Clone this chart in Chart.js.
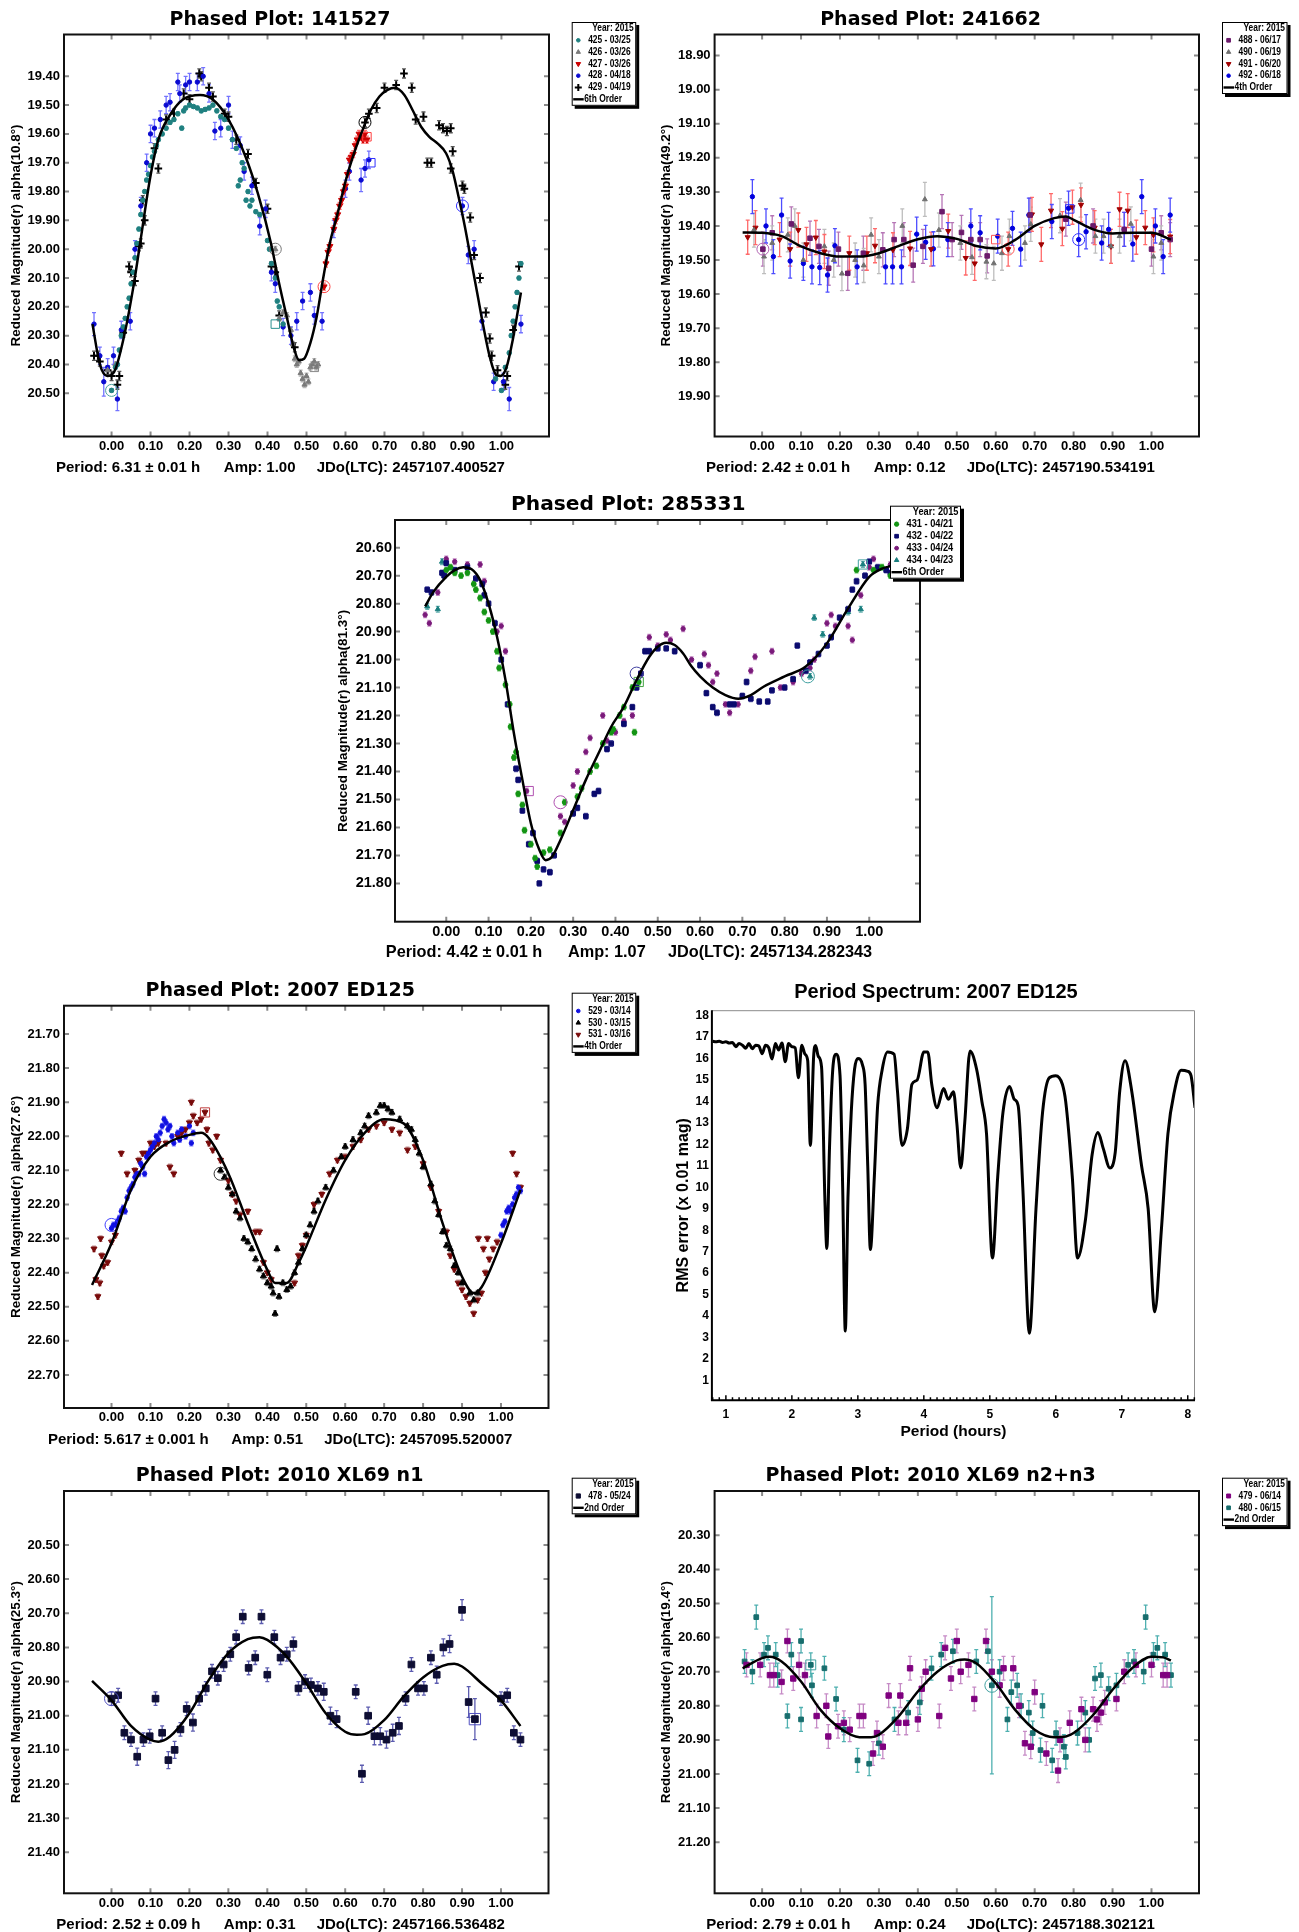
<!DOCTYPE html>
<html>
<head>
<meta charset="utf-8">
<script src="https://cdn.jsdelivr.net/npm/chart.js@4.4.1/dist/chart.umd.min.js"></script>
<style>
  html, body { margin: 0; padding: 0; background: #fff; }
  body { width: 1299px; height: 1932px; position: relative; overflow: hidden; font-family: "Liberation Sans", Arial, sans-serif; }
  canvas { position: absolute; }
  .ttl { position: absolute; font-family: "DejaVu Sans", sans-serif; font-weight: bold; line-height: 1; white-space: nowrap; color: #000; transform: translate(-50%, -50%); }
  .ftr { position: absolute; font-family: "Liberation Sans", Arial, sans-serif; font-weight: bold; line-height: 1; white-space: nowrap; color: #000; transform: translateY(-50%); }
</style>
</head>
<body>
<script>
// ---------------- shared tick values ----------------
const phaseTicks = [0.00, 0.10, 0.20, 0.30, 0.40, 0.50, 0.60, 0.70, 0.80, 0.90, 1.00];

// ---------------- 141527 ----------------
const ticks141527 = [19.40, 19.50, 19.60, 19.70, 19.80, 19.90, 20.00, 20.10, 20.20, 20.30, 20.40, 20.50];
const fit141527 = [[-0.049,20.26],[-0.03,20.40],[-0.011,20.44],[0.007,20.425],[0.034,20.29],[0.056,20.13],[0.077,19.945],[0.098,19.76],[0.12,19.62],[0.152,19.53],[0.184,19.48],[0.227,19.465],[0.259,19.48],[0.30,19.55],[0.344,19.68],[0.376,19.81],[0.409,19.98],[0.43,20.12],[0.451,20.245],[0.467,20.34],[0.481,20.385],[0.494,20.38],[0.51,20.325],[0.526,20.235],[0.542,20.107],[0.558,19.99],[0.58,19.875],[0.601,19.76],[0.622,19.667],[0.644,19.586],[0.665,19.517],[0.687,19.47],[0.708,19.447],[0.727,19.44],[0.751,19.465],[0.772,19.517],[0.794,19.575],[0.815,19.61],[0.836,19.633],[0.858,19.667],[0.874,19.725],[0.89,19.818],[0.906,19.92],[0.922,20.037],[0.938,20.153],[0.954,20.27],[0.97,20.373],[0.986,20.436],[0.997,20.44],[1.013,20.41],[1.029,20.315],[1.05,20.15]];
const s141527_425 = [[0.0,20.49],[0.01,20.41],[0.015,20.40],[0.02,20.35],[0.025,20.30],[0.03,20.27],[0.035,20.24],[0.04,20.20],[0.045,20.17],[0.05,20.12],[0.055,20.08],[0.06,20.03],[0.065,19.98],[0.07,19.93],[0.075,19.88],[0.08,19.83],[0.085,19.80],[0.09,19.76],[0.095,19.74],[0.10,19.71],[0.105,19.68],[0.11,19.66],[0.115,19.64],[0.12,19.62],[0.13,19.60],[0.14,19.58],[0.15,19.56],[0.16,19.55],[0.17,19.53],[0.18,19.58],[0.185,19.52],[0.19,19.51],[0.20,19.50],[0.21,19.505],[0.22,19.51],[0.23,19.52],[0.24,19.515],[0.25,19.51],[0.26,19.50],[0.27,19.52],[0.28,19.54],[0.29,19.55],[0.30,19.58],[0.31,19.62],[0.32,19.65],[0.325,19.78],[0.33,19.76],[0.335,19.70],[0.34,19.72],[0.345,19.83],[0.35,19.80],[0.355,19.85],[0.36,19.83],[0.37,19.87],[0.38,19.88],[0.40,19.97],[0.405,20.00],[0.41,20.05],[0.42,20.10],[0.425,20.18],[0.43,20.20],[0.44,20.26],[0.985,20.45],[1.0,20.49],[1.01,20.41],[1.02,20.36],[1.025,20.30],[1.03,20.25],[1.035,20.20],[1.04,20.15],[1.045,20.10],[1.05,20.05]];
const s141527_426 = [[-0.01,20.42],[0.01,20.40],[0.42,20.00],[0.43,20.24],[0.44,20.22],[0.45,20.23],[0.46,20.28],[0.465,20.33],[0.47,20.38],[0.475,20.40],[0.48,20.39],[0.485,20.43],[0.49,20.45],[0.495,20.47],[0.50,20.44],[0.505,20.46],[0.51,20.41],[0.515,20.40],[0.52,20.39],[0.525,20.41],[0.53,20.40]];
const s141527_427 = [[0.545,20.13],[0.55,20.05],[0.555,20.01],[0.56,19.99],[0.57,19.93],[0.575,19.90],[0.58,19.88],[0.585,19.85],[0.59,19.83],[0.595,19.80],[0.60,19.78],[0.605,19.74],[0.61,19.69],[0.615,19.68],[0.62,19.67],[0.625,19.64],[0.63,19.62],[0.635,19.60],[0.64,19.61],[0.645,19.62],[0.65,19.60],[0.655,19.62]];
const s141527_428 = [[-0.045,20.26,0.04],[-0.03,20.37,0.03],[-0.02,20.46,0.05],[-0.01,20.41,0.03],[0.005,20.37,0.03],[0.015,20.52,0.04],[0.025,20.28,0.03],[0.048,20.25,0.03],[0.06,20.00,0.03],[0.075,19.85,0.03],[0.09,19.70,0.03],[0.10,19.60,0.03],[0.11,19.58,0.03],[0.125,19.55,0.03],[0.14,19.50,0.03],[0.15,19.49,0.03],[0.17,19.42,0.03],[0.175,19.46,0.03],[0.19,19.43,0.03],[0.20,19.42,0.03],[0.22,19.42,0.03],[0.235,19.40,0.03],[0.25,19.46,0.03],[0.265,19.59,0.03],[0.28,19.58,0.03],[0.30,19.50,0.03],[0.31,19.62,0.03],[0.33,19.64,0.03],[0.34,19.73,0.03],[0.36,19.78,0.03],[0.38,19.92,0.03],[0.395,19.86,0.03],[0.41,20.08,0.03],[0.42,20.12,0.03],[0.44,20.27,0.03],[0.46,20.30,0.03],[0.475,20.25,0.03],[0.49,20.18,0.03],[0.51,20.15,0.03],[0.52,20.23,0.03],[0.54,20.25,0.03],[0.57,19.93,0.03],[0.60,19.79,0.03],[0.61,19.73,0.03],[0.64,19.76,0.04],[0.65,19.72,0.03],[0.66,19.69,0.03],[0.90,19.85,0.03],[0.915,20.02,0.03],[0.93,20.00,0.03],[0.95,20.25,0.03],[0.98,20.46,0.03],[1.005,20.46,0.03],[1.02,20.52,0.04],[1.05,20.26,0.03]];
const s141527_429 = [[-0.045,20.37],[-0.035,20.37],[-0.03,20.39],[-0.01,20.42],[0.0,20.44],[0.015,20.47],[0.02,20.44],[0.03,20.29],[0.045,20.06],[0.05,20.08],[0.06,20.11],[0.07,19.99],[0.075,19.98],[0.085,19.90],[0.08,19.83],[0.11,19.65],[0.12,19.72],[0.14,19.55],[0.16,19.53],[0.185,19.46],[0.20,19.48],[0.225,19.39],[0.23,19.40],[0.25,19.44],[0.26,19.47],[0.29,19.53],[0.30,19.54],[0.32,19.62],[0.35,19.67],[0.37,19.77],[0.40,19.86],[0.41,20.06],[0.42,20.08],[0.43,20.23],[0.47,20.34],[0.65,19.56],[0.66,19.53],[0.68,19.51],[0.70,19.44],[0.73,19.43],[0.75,19.39],[0.77,19.44],[0.78,19.55],[0.80,19.54],[0.81,19.70],[0.82,19.70],[0.84,19.57],[0.85,19.58],[0.86,19.59],[0.87,19.58],[0.87,19.72],[0.875,19.66],[0.90,19.78],[0.905,19.79],[0.92,19.89],[0.93,20.02],[0.945,20.10],[0.96,20.22],[0.97,20.31],[0.975,20.37],[0.99,20.42],[1.01,20.47],[1.015,20.44],[1.03,20.28],[1.045,20.06]];
const rings141527 = [[0.0,20.49],[0.42,20.00],[0.545,20.13],[0.65,19.56],[0.90,19.85]];
const boxes141527 = [[0.42,20.26],[0.52,20.41],[0.655,19.61],[0.665,19.70]];

// ---------------- 241662 ----------------
const ticks241662 = [18.90, 19.00, 19.10, 19.20, 19.30, 19.40, 19.50, 19.60, 19.70, 19.80, 19.90];
const fit241662 = [[-0.05,19.419],[0.0,19.42],[0.05,19.43],[0.1,19.46],[0.15,19.48],[0.2,19.49],[0.25,19.49],[0.3,19.48],[0.35,19.459],[0.4,19.439],[0.45,19.43],[0.5,19.438],[0.55,19.459],[0.6,19.466],[0.65,19.441],[0.7,19.40],[0.75,19.377],[0.78,19.372],[0.8,19.382],[0.85,19.41],[0.9,19.422],[0.95,19.42],[1.0,19.42],[1.05,19.44]];
const s241662_488 = [[0.002,19.468],[0.026,19.42],[0.075,19.394],[0.123,19.436],[0.146,19.46],[0.171,19.524],[0.196,19.468],[0.22,19.539],[0.26,19.48],[0.31,19.47],[0.339,19.44],[0.364,19.44],[0.388,19.515],[0.413,19.46],[0.462,19.358],[0.488,19.44],[0.512,19.419],[0.536,19.44],[0.56,19.44],[0.578,19.488],[0.688,19.368],[0.78,19.38],[0.85,19.40],[0.93,19.41],[1.0,19.468],[1.025,19.42],[1.048,19.44]];
const s241662_490 = [[-0.021,19.412],[0.005,19.49],[0.026,19.45],[0.066,19.426],[0.084,19.40],[0.106,19.50],[0.16,19.46],[0.184,19.50],[0.205,19.54],[0.239,19.50],[0.261,19.516],[0.28,19.426],[0.30,19.49],[0.36,19.40],[0.418,19.322],[0.454,19.412],[0.509,19.45],[0.539,19.492],[0.576,19.505],[0.595,19.51],[0.616,19.48],[0.635,19.43],[0.675,19.45],[0.69,19.395],[0.765,19.37],[0.818,19.324],[0.856,19.43],[0.877,19.43],[0.896,19.46],[0.918,19.43],[0.947,19.394],[1.005,19.49],[1.025,19.45]];
const s241662_491 = [[-0.037,19.433],[-0.017,19.405],[0.045,19.44],[0.072,19.468],[0.093,19.412],[0.114,19.454],[0.138,19.434],[0.16,19.475],[0.224,19.48],[0.269,19.48],[0.29,19.458],[0.336,19.47],[0.38,19.466],[0.434,19.468],[0.478,19.415],[0.523,19.494],[0.546,19.51],[0.632,19.468],[0.693,19.366],[0.717,19.454],[0.742,19.355],[0.771,19.408],[0.797,19.345],[0.819,19.338],[0.854,19.405],[0.896,19.46],[0.918,19.351],[0.939,19.355],[0.961,19.433],[0.984,19.405],[1.005,19.426],[1.048,19.431]];
const s241662_492 = [[-0.025,19.314],[0.01,19.40],[0.029,19.49],[0.05,19.368],[0.072,19.503],[0.106,19.51],[0.128,19.52],[0.148,19.522],[0.168,19.544],[0.187,19.458],[0.244,19.52],[0.317,19.52],[0.335,19.52],[0.358,19.52],[0.397,19.424],[0.42,19.448],[0.44,19.467],[0.477,19.44],[0.536,19.40],[0.56,19.42],[0.605,19.43],[0.643,19.407],[0.664,19.468],[0.685,19.368],[0.744,19.387],[0.787,19.348],[0.813,19.44],[0.832,19.417],[0.872,19.45],[0.89,19.41],[0.93,19.41],[0.952,19.453],[0.975,19.314],[1.01,19.40],[1.03,19.49],[1.048,19.368]];
const rings241662 = [[0.002,19.468],[0.632,19.468],[0.813,19.44]];
const boxes241662 = [[0.60,19.44],[0.79,19.35]];

// ---------------- 285331 ----------------
const ticks285331 = [20.60, 20.70, 20.80, 20.90, 21.00, 21.10, 21.20, 21.30, 21.40, 21.50, 21.60, 21.70, 21.80];
const fit285331 = [[-0.05,20.81],[-0.03,20.757],[0.0,20.704],[0.02,20.68],[0.04,20.67],[0.06,20.677],[0.08,20.716],[0.1,20.80],[0.12,20.918],[0.14,21.073],[0.16,21.264],[0.18,21.43],[0.2,21.585],[0.22,21.68],[0.235,21.717],[0.25,21.705],[0.27,21.645],[0.3,21.538],[0.33,21.43],[0.36,21.335],[0.39,21.24],[0.42,21.168],[0.45,21.073],[0.48,20.99],[0.5,20.954],[0.52,20.94],[0.54,20.948],[0.56,20.978],[0.58,21.025],[0.6,21.06],[0.63,21.10],[0.66,21.127],[0.69,21.14],[0.72,21.127],[0.75,21.097],[0.8,21.06],[0.85,21.025],[0.9,20.942],[0.95,20.817],[1.0,20.704],[1.03,20.675],[1.05,20.666]];
const s285331_431 = [[0.0,20.68],[0.01,20.67],[0.02,20.69],[0.035,20.70],[0.05,20.69],[0.065,20.73],[0.07,20.75],[0.08,20.78],[0.09,20.83],[0.10,20.86],[0.11,20.90],[0.12,20.97],[0.125,21.03],[0.14,21.09],[0.15,21.16],[0.152,21.24],[0.16,21.35],[0.165,21.33],[0.17,21.48],[0.18,21.52],[0.185,21.61],[0.20,21.66],[0.21,21.71],[0.215,21.74],[0.23,21.69],[0.245,21.68],[0.27,21.62],[0.28,21.51],[0.31,21.49],[0.32,21.46],[0.34,21.40],[0.355,21.38],[0.37,21.30],[0.39,21.26],[0.395,21.25],[0.41,21.20],[0.42,21.17],[0.44,21.10],[0.445,21.26],[0.455,21.08],[0.97,20.68],[1.01,20.68],[1.03,20.67],[1.05,20.70]];
const s285331_432 = [[-0.045,20.75],[-0.035,20.76],[-0.01,20.69],[-0.005,20.70],[0.0,20.655],[0.02,20.68],[0.05,20.67],[0.07,20.71],[0.085,20.73],[0.09,20.77],[0.10,20.80],[0.115,20.87],[0.13,21.00],[0.145,21.16],[0.165,21.39],[0.17,21.43],[0.18,21.54],[0.195,21.66],[0.205,21.62],[0.215,21.72],[0.22,21.80],[0.23,21.75],[0.245,21.76],[0.255,21.70],[0.30,21.55],[0.31,21.53],[0.33,21.56],[0.35,21.48],[0.36,21.47],[0.38,21.32],[0.39,21.30],[0.42,21.23],[0.44,21.17],[0.45,21.10],[0.46,21.05],[0.47,20.97],[0.48,20.97],[0.50,20.96],[0.52,20.96],[0.54,20.97],[0.60,21.02],[0.615,21.12],[0.63,21.17],[0.64,21.19],[0.67,21.16],[0.68,21.16],[0.70,21.13],[0.71,21.08],[0.72,21.14],[0.74,21.15],[0.76,21.15],[0.77,21.11],[0.80,21.10],[0.82,21.07],[0.83,20.95],[0.85,21.04],[0.86,21.01],[0.88,20.98],[0.90,20.95],[0.91,20.92],[0.93,20.85],[0.95,20.82],[0.96,20.75],[0.97,20.72],[0.99,20.70],[1.0,20.65],[1.02,20.67],[1.04,20.68],[1.05,20.69]];
const s285331_433 = [[-0.05,20.84],[-0.04,20.87],[-0.02,20.76],[0.0,20.64],[0.02,20.65],[0.05,20.66],[0.08,20.66],[0.09,20.72],[0.12,20.90],[0.13,20.88],[0.14,20.97],[0.19,21.47],[0.27,21.56],[0.28,21.58],[0.30,21.45],[0.31,21.40],[0.33,21.33],[0.34,21.28],[0.37,21.20],[0.38,21.29],[0.40,21.26],[0.42,21.22],[0.44,21.20],[0.46,21.05],[0.48,20.92],[0.50,20.95],[0.52,20.91],[0.53,20.93],[0.56,20.89],[0.58,21.00],[0.61,20.98],[0.62,21.02],[0.63,21.08],[0.64,21.05],[0.66,21.16],[0.67,21.19],[0.69,21.16],[0.72,21.04],[0.73,20.99],[0.77,20.97],[0.79,21.10],[0.82,21.08],[0.84,21.05],[0.86,21.03],[0.87,21.00],[0.90,20.87],[0.91,20.84],[0.92,20.88],[0.95,20.88],[0.96,20.93],[0.98,20.77],[1.0,20.67],[1.01,20.64],[1.05,20.66]];
const s285331_434 = [[-0.045,20.81],[-0.02,20.82],[-0.01,20.65],[0.86,21.06],[0.87,20.85],[0.89,20.91],[0.95,20.83],[0.98,20.82],[0.985,20.66]];
const rings285331 = [[0.27,21.51],[0.45,21.05],[0.855,21.06]];
const boxes285331 = [[0.195,21.47],[0.455,21.08],[0.985,20.66]];

// ---------------- 2007 ED125 ----------------
const ticksED125 = [21.70, 21.80, 21.90, 22.00, 22.10, 22.20, 22.30, 22.40, 22.50, 22.60, 22.70];
const fitED125 = [[-0.05,22.436],[0.0,22.314],[0.05,22.157],[0.1,22.06],[0.15,22.016],[0.2,21.996],[0.23,21.99],[0.25,22.006],[0.3,22.109],[0.35,22.255],[0.4,22.392],[0.42,22.43],[0.45,22.43],[0.48,22.372],[0.5,22.323],[0.55,22.186],[0.6,22.07],[0.65,21.99],[0.7,21.95],[0.75,21.962],[0.8,22.07],[0.85,22.255],[0.9,22.412],[0.93,22.46],[0.95,22.443],[1.0,22.314],[1.05,22.157]];
const sED125_529 = [[0.0,22.27],[0.005,22.26],[0.01,22.26],[0.015,22.25],[0.02,22.24],[0.025,22.22],[0.03,22.21],[0.035,22.22],[0.04,22.18],[0.045,22.16],[0.05,22.15],[0.055,22.14],[0.06,22.12],[0.065,22.11],[0.07,22.11],[0.075,22.08],[0.08,22.09],[0.085,22.11],[0.09,22.06],[0.095,22.05],[0.10,22.04],[0.105,22.03],[0.11,22.02],[0.115,22.00],[0.12,22.01],[0.125,21.99],[0.13,21.97],[0.135,21.95],[0.14,21.96],[0.145,21.98],[0.15,21.97],[0.155,22.00],[0.16,22.02],[0.17,21.99],[0.175,22.01],[0.18,21.98],[0.19,22.00],[0.20,21.97],[0.205,22.02],[0.21,21.99],[1.0,22.29],[1.005,22.26],[1.01,22.25],[1.015,22.22],[1.02,22.21],[1.025,22.22],[1.03,22.20],[1.035,22.18],[1.04,22.17],[1.045,22.15],[1.05,22.16]];
const sED125_530 = [[0.28,22.10],[0.29,22.12],[0.30,22.15],[0.31,22.17],[0.32,22.22],[0.33,22.24],[0.34,22.30],[0.35,22.31],[0.36,22.33],[0.37,22.36],[0.38,22.39],[0.39,22.41],[0.40,22.43],[0.41,22.44],[0.415,22.46],[0.42,22.52],[0.425,22.33],[0.43,22.47],[0.44,22.43],[0.45,22.45],[0.46,22.44],[0.47,22.40],[0.48,22.37],[0.49,22.33],[0.50,22.29],[0.51,22.26],[0.52,22.22],[0.53,22.19],[0.55,22.15],[0.57,22.10],[0.59,22.06],[0.60,22.03],[0.62,22.01],[0.64,21.99],[0.65,21.97],[0.66,21.94],[0.68,21.93],[0.69,21.91],[0.70,21.91],[0.71,21.92],[0.72,21.93],[0.74,21.95],[0.76,21.97],[0.77,21.98],[0.78,22.01],[0.79,22.05],[0.80,22.09],[0.82,22.14],[0.83,22.19],[0.84,22.23],[0.85,22.28],[0.86,22.32],[0.87,22.33],[0.88,22.38],[0.89,22.40],[0.90,22.43],[0.92,22.46],[0.93,22.48],[0.94,22.46]];
const sED125_531 = [[-0.045,22.33],[-0.04,22.42],[-0.035,22.47],[-0.03,22.43],[-0.025,22.35],[-0.028,22.30],[-0.02,22.38],[-0.01,22.37],[0.0,22.31],[0.01,22.29],[0.025,22.05],[0.04,22.11],[0.06,22.10],[0.07,22.07],[0.08,22.05],[0.09,22.05],[0.10,22.02],[0.11,22.03],[0.12,22.02],[0.14,22.02],[0.15,22.09],[0.16,22.11],[0.17,22.00],[0.18,21.99],[0.19,21.98],[0.20,21.96],[0.205,21.90],[0.21,21.94],[0.22,21.96],[0.23,21.95],[0.24,21.93],[0.245,21.98],[0.25,22.02],[0.26,22.04],[0.27,22.00],[0.28,22.07],[0.30,22.13],[0.31,22.17],[0.32,22.19],[0.33,22.23],[0.35,22.22],[0.37,22.28],[0.38,22.28],[0.39,22.37],[0.40,22.40],[0.41,22.42],[0.47,22.43],[0.48,22.35],[0.49,22.32],[0.50,22.29],[0.52,22.20],[0.54,22.17],[0.56,22.11],[0.58,22.07],[0.60,22.06],[0.62,22.03],[0.64,22.01],[0.66,21.98],[0.68,21.97],[0.70,21.96],[0.72,21.98],[0.74,21.99],[0.76,22.04],[0.78,22.03],[0.80,22.08],[0.82,22.15],[0.84,22.22],[0.86,22.28],[0.87,22.35],[0.88,22.39],[0.89,22.43],[0.90,22.45],[0.91,22.47],[0.92,22.49],[0.93,22.52],[0.94,22.48],[0.95,22.46],[0.942,22.30],[0.955,22.33],[0.96,22.40],[0.965,22.30],[0.97,22.36],[0.98,22.33],[0.99,22.31],[1.03,22.05],[1.04,22.11],[1.05,22.15]];
const ringsED125 = [[0.0,22.26],[0.28,22.11]];
const boxesED125 = [[0.24,21.93]];

// ---------------- 2007 ED125 period spectrum ----------------
const spectrumTicksX = [1, 2, 3, 4, 5, 6, 7, 8];
const spectrumTicksY = [1, 2, 3, 4, 5, 6, 7, 8, 9, 10, 11, 12, 13, 14, 15, 16, 17, 18];
const spectrumED125 = [[0.80,16.80],[0.85,16.78],[0.9,16.80],[0.95,16.75],[1.0,16.78],[1.05,16.72],[1.1,16.75],[1.15,16.55],[1.2,16.70],[1.25,16.62],[1.3,16.48],[1.35,16.70],[1.4,16.45],[1.45,16.62],[1.5,16.58],[1.55,16.22],[1.6,16.62],[1.65,16.50],[1.7,15.98],[1.75,16.70],[1.8,16.40],[1.85,16.72],[1.9,15.85],[1.95,16.70],[2.0,16.55],[2.05,16.50],[2.1,15.10],[2.15,16.62],[2.2,16.20],[2.24,15.90],[2.28,11.95],[2.33,16.10],[2.36,16.60],[2.4,16.10],[2.45,15.60],[2.5,9.50],[2.53,7.15],[2.57,11.80],[2.62,15.50],[2.67,16.20],[2.73,15.20],[2.77,10.00],[2.81,3.30],[2.85,9.50],[2.9,13.50],[2.95,15.50],[3.0,16.00],[3.07,15.70],[3.11,14.80],[3.15,11.00],[3.19,7.10],[3.25,10.50],[3.3,13.80],[3.37,15.50],[3.45,16.30],[3.55,16.20],[3.6,14.50],[3.67,11.95],[3.75,12.70],[3.82,14.80],[3.9,15.00],[4.0,16.30],[4.06,16.30],[4.12,14.80],[4.2,13.70],[4.3,14.60],[4.37,14.10],[4.45,14.45],[4.5,13.00],[4.56,10.90],[4.62,13.00],[4.7,16.35],[4.8,15.50],[4.88,14.00],[4.95,12.50],[5.04,6.70],[5.12,10.50],[5.2,13.50],[5.3,14.70],[5.37,14.10],[5.43,13.80],[5.5,10.00],[5.6,3.20],[5.7,9.00],[5.8,13.50],[5.9,15.10],[6.0,15.20],[6.1,14.80],[6.15,14.00],[6.25,10.50],[6.33,6.70],[6.45,8.50],[6.55,11.50],[6.64,12.55],[6.72,11.80],[6.82,10.90],[6.9,11.60],[6.97,14.50],[7.05,15.90],[7.15,14.50],[7.3,11.00],[7.4,9.00],[7.5,4.20],[7.6,8.00],[7.7,12.50],[7.8,14.50],[7.9,15.45],[8.0,15.40],[8.05,15.20],[8.11,13.70]];

// ---------------- 2010 XL69 n1 ----------------
const ticksXL69n1 = [20.50, 20.60, 20.70, 20.80, 20.90, 21.00, 21.10, 21.20, 21.30, 21.40];
const fitXL69n1 = [[-0.05,20.898],[0.0,20.955],[0.05,21.03],[0.1,21.071],[0.12,21.076],[0.15,21.061],[0.2,20.993],[0.25,20.895],[0.3,20.817],[0.35,20.776],[0.38,20.77],[0.4,20.778],[0.45,20.827],[0.5,20.905],[0.55,20.993],[0.6,21.047],[0.63,21.056],[0.65,21.054],[0.7,21.013],[0.75,20.944],[0.8,20.888],[0.85,20.854],[0.88,20.848],[0.9,20.856],[0.95,20.905],[1.0,20.955],[1.05,21.03]];
const sXL69n1_478 = [[0.0,20.95,0.02],[0.017,20.94,0.02],[0.033,21.05,0.02],[0.05,21.07,0.02],[0.066,21.12,0.025],[0.082,21.07,0.02],[0.098,21.06,0.02],[0.113,20.95,0.02],[0.13,21.05,0.02],[0.146,21.13,0.025],[0.162,21.10,0.025],[0.177,21.04,0.02],[0.193,20.98,0.02],[0.209,21.02,0.025],[0.225,20.95,0.02],[0.242,20.92,0.02],[0.258,20.87,0.02],[0.273,20.89,0.02],[0.288,20.85,0.02],[0.305,20.82,0.02],[0.32,20.77,0.02],[0.337,20.71,0.02],[0.352,20.86,0.02],[0.369,20.83,0.02],[0.385,20.71,0.02],[0.40,20.88,0.02],[0.418,20.77,0.02],[0.434,20.83,0.02],[0.45,20.82,0.02],[0.467,20.79,0.02],[0.48,20.92,0.02],[0.497,20.90,0.02],[0.512,20.91,0.02],[0.53,20.92,0.02],[0.545,20.93,0.025],[0.562,21.00,0.025],[0.578,21.01,0.025],[0.627,20.93,0.02],[0.643,21.17,0.025],[0.659,21.00,0.025],[0.675,21.06,0.025],[0.69,21.06,0.025],[0.706,21.07,0.025],[0.722,21.05,0.025],[0.738,21.03,0.025],[0.755,20.95,0.02],[0.77,20.85,0.02],[0.787,20.92,0.02],[0.802,20.92,0.02],[0.82,20.83,0.02],[0.835,20.88,0.025],[0.852,20.80,0.025],[0.868,20.79,0.025],[0.90,20.69,0.03],[0.917,20.96,0.045],[0.933,21.01,0.06],[1.0,20.95,0.02],[1.016,20.94,0.02],[1.033,21.05,0.02],[1.05,21.07,0.02]];
const ringsXL69n1 = [[0.0,20.95]];
const boxesXL69n1 = [[0.933,21.01]];

// ---------------- 2010 XL69 n2+n3 ----------------
const ticksXL69n23 = [20.30, 20.40, 20.50, 20.60, 20.70, 20.80, 20.90, 21.00, 21.10, 21.20];
const fitXL69n23 = [[-0.05,20.69],[0.0,20.66],[0.02,20.656],[0.05,20.67],[0.1,20.729],[0.15,20.812],[0.2,20.866],[0.25,20.892],[0.28,20.892],[0.3,20.885],[0.35,20.832],[0.4,20.758],[0.45,20.70],[0.5,20.667],[0.52,20.664],[0.55,20.675],[0.6,20.734],[0.65,20.812],[0.7,20.87],[0.75,20.892],[0.78,20.89],[0.8,20.88],[0.85,20.827],[0.9,20.753],[0.95,20.69],[1.0,20.656],[1.03,20.658],[1.05,20.667]];
const sXL69n23_479 = [[-0.04,20.68],[-0.005,20.68],[0.02,20.71],[0.03,20.71],[0.05,20.73],[0.065,20.61],[0.08,20.72],[0.095,20.68],[0.11,20.71],[0.14,20.83],[0.165,20.80],[0.17,20.89],[0.195,20.86],[0.21,20.85],[0.225,20.87],[0.25,20.83],[0.26,20.83],[0.285,20.94],[0.295,20.88],[0.31,20.92],[0.325,20.77],[0.35,20.85],[0.355,20.77],[0.37,20.85],[0.38,20.69],[0.40,20.84],[0.41,20.75],[0.42,20.70],[0.455,20.83],[0.47,20.63],[0.485,20.72],[0.50,20.61],[0.51,20.70],[0.53,20.68],[0.545,20.78],[0.575,20.61],[0.59,20.70],[0.61,20.74],[0.62,20.69],[0.645,20.69],[0.66,20.80],[0.675,20.91],[0.69,20.92],[0.70,20.76],[0.73,20.94],[0.76,20.99],[0.765,20.90],[0.79,20.85],[0.82,20.81],[0.83,20.90],[0.85,20.81],[0.86,20.84],[0.87,20.82],[0.88,20.79],[0.91,20.78],[0.93,20.70],[0.96,20.68],[1.0,20.68],[1.03,20.71],[1.04,20.71]];
const sXL69n23_480 = [[-0.045,20.67],[-0.025,20.70],[-0.015,20.54],[0.005,20.65],[0.015,20.63],[0.035,20.65],[0.04,20.71],[0.065,20.83],[0.075,20.65],[0.10,20.84],[0.10,20.61],[0.125,20.68],[0.128,20.74],[0.16,20.69],[0.19,20.78],[0.21,20.87],[0.245,20.96],[0.275,20.97],[0.30,20.91],[0.34,20.84],[0.375,20.82],[0.405,20.79],[0.435,20.69],[0.46,20.65],[0.49,20.64],[0.55,20.67],[0.58,20.64],[0.59,20.74,0.26],[0.61,20.70],[0.63,20.84],[0.64,20.76],[0.655,20.74],[0.665,20.80],[0.685,20.82],[0.695,20.88],[0.715,20.93],[0.72,20.80],[0.745,20.96],[0.755,20.88],[0.775,20.92],[0.78,20.95],[0.81,20.88],[0.83,20.82],[0.84,20.90],[0.855,20.72],[0.87,20.71],[0.89,20.75],[0.91,20.74],[0.94,20.68],[0.955,20.67],[0.98,20.70],[0.985,20.54],[1.005,20.65],[1.015,20.63],[1.035,20.65],[1.05,20.71]];
const ringsXL69n23 = [[0.59,20.74]];
const boxesXL69n23 = [[0.125,20.68]];

// ---------------- text ----------------
const legendYear = 'Year: 2015';
const titles = ['Phased Plot: 141527', 'Phased Plot: 241662', 'Phased Plot: 285331', 'Phased Plot: 2007 ED125', 'Period Spectrum: 2007 ED125', 'Phased Plot: 2010 XL69 n1', 'Phased Plot: 2010 XL69 n2+n3'];
const footers = [
  ['Period: 6.31 \u00b1 0.01 h', 'Amp: 1.00', 'JDo(LTC): 2457107.400527'],
  ['Period: 2.42 \u00b1 0.01 h', 'Amp: 0.12', 'JDo(LTC): 2457190.534191'],
  ['Period: 4.42 \u00b1 0.01 h', 'Amp: 1.07', 'JDo(LTC): 2457134.282343'],
  ['Period: 5.617 \u00b1 0.001 h', 'Amp: 0.51', 'JDo(LTC): 2457095.520007'],
  ['Period: 2.52 \u00b1 0.09 h', 'Amp: 0.31', 'JDo(LTC): 2457166.536482'],
  ['Period: 2.79 \u00b1 0.01 h', 'Amp: 0.24', 'JDo(LTC): 2457188.302121']
];

// ================= drawing helpers =================
Chart.defaults.font.family = '"Liberation Sans", Arial, sans-serif';
Chart.defaults.color = '#000';

function toXY(arr) { return arr.map(p => ({ x: p[0], y: p[1] })); }

function makeCanvas(r) {
  const c = document.createElement('canvas');
  const w = Math.round(r.r - r.l), h = Math.round(r.b - r.t);
  c.width = w; c.height = h;
  c.style.left = r.l + 'px'; c.style.top = r.t + 'px';
  c.style.width = w + 'px'; c.style.height = h + 'px';
  document.body.appendChild(c);
  return c;
}

function addText(cls, text, x, y, size) {
  const d = document.createElement('div');
  d.className = cls; d.textContent = text;
  d.style.left = x + 'px'; d.style.top = y + 'px'; d.style.fontSize = size + 'px';
  document.body.appendChild(d);
  return d;
}

// vertical error bars, drawn behind the markers
function errorBars() {
  return {
    id: 'errorBars',
    beforeDatasetsDraw(chart) {
      const { ctx, chartArea: a } = chart, ys = chart.scales.y;
      ctx.save();
      ctx.beginPath(); ctx.rect(a.left, a.top, a.right - a.left, a.bottom - a.top); ctx.clip();
      chart.data.datasets.forEach((ds, i) => {
        if (!ds.errColor) return;
        const meta = chart.getDatasetMeta(i);
        ctx.strokeStyle = ds.errColor; ctx.lineWidth = 1.3;
        ctx.beginPath();
        meta.data.forEach((el, j) => {
          const d = ds.data[j];
          if (!d.e) return;
          const y1 = ys.getPixelForValue(d.y - d.e), y2 = ys.getPixelForValue(d.y + d.e);
          ctx.moveTo(el.x, y1); ctx.lineTo(el.x, y2);
          ctx.moveTo(el.x - 2, y1); ctx.lineTo(el.x + 2, y1);
          ctx.moveTo(el.x - 2, y2); ctx.lineTo(el.x + 2, y2);
        });
        ctx.stroke();
      });
      ctx.restore();
    }
  };
}

// plot frame with short inward ticks on all four sides
function phaseFrame(P) {
  return {
    id: 'phaseFrame',
    afterDatasetsDraw(chart) {
      const { ctx, chartArea: a } = chart, xs = chart.scales.x, ys = chart.scales.y;
      ctx.save();
      ctx.strokeStyle = '#8a8a8a'; ctx.lineWidth = 2;
      ctx.beginPath();
      P.xTicks.forEach(v => {
        const p = xs.getPixelForValue(v);
        ctx.moveTo(p, a.top); ctx.lineTo(p, a.top + 5);
        ctx.moveTo(p, a.bottom); ctx.lineTo(p, a.bottom - 5);
      });
      P.yTicks.forEach(v => {
        const p = ys.getPixelForValue(v);
        ctx.moveTo(a.left, p); ctx.lineTo(a.left + 5, p);
        ctx.moveTo(a.right, p); ctx.lineTo(a.right - 5, p);
      });
      ctx.stroke();
      ctx.strokeStyle = '#111'; ctx.lineWidth = 2;
      ctx.strokeRect(a.left, a.top, a.right - a.left, a.bottom - a.top);
      ctx.restore();
    }
  };
}

function narrowText(ctx, s, x, y, align, sx) {
  ctx.save(); ctx.translate(x, y); ctx.scale(sx, 1);
  ctx.textAlign = align; ctx.fillText(s, 0, 0); ctx.restore();
}

// boxed legend with drop shadow, right of the plot
function boxLegend(P) {
  return {
    id: 'boxLegend',
    afterDraw(chart) {
      const L = P.legend, ctx = chart.ctx;
      const x = L.x - P.canvas.l, y = L.y - P.canvas.t, w = L.w, rh = L.row;
      const n = P.series.length + 2;
      const h = 13 + rh * (n - 1);
      ctx.save();
      ctx.fillStyle = '#000'; ctx.fillRect(x + 3, y + 3, w, h);
      ctx.fillStyle = '#fff'; ctx.fillRect(x, y, w, h);
      ctx.strokeStyle = '#000'; ctx.lineWidth = 1; ctx.strokeRect(x + 0.5, y + 0.5, w - 1, h - 1);
      ctx.font = 'bold ' + L.font + 'px "Liberation Sans", Arial, sans-serif';
      ctx.textBaseline = 'middle'; ctx.fillStyle = '#000';
      narrowText(ctx, legendYear, x + w - 2.5, y + 6.5, 'right', 0.84);
      P.series.forEach((s, k) => {
        const cy = y + 6.5 + rh * (k + 1);
        ctx.fillStyle = s.color; ctx.strokeStyle = s.color; ctx.lineWidth = s.lbw || s.bw || 1;
        Chart.helpers.drawPoint(ctx, { pointStyle: s.shape, radius: s.lr, rotation: s.rot || 0, borderWidth: s.lbw || s.bw || 1 }, x + 6.6, cy);
        ctx.fillStyle = '#000';
        narrowText(ctx, s.label, x + 16.5, cy, 'left', 0.84);
      });
      const cy = y + 6.5 + rh * (n - 1);
      ctx.strokeStyle = '#000'; ctx.lineWidth = 2.4;
      ctx.beginPath(); ctx.moveTo(x + 1.5, cy); ctx.lineTo(x + 12, cy); ctx.stroke();
      ctx.fillStyle = '#000';
      narrowText(ctx, L.fitLabel, x + 12.5, cy, 'left', 0.84);
      ctx.restore();
    }
  };
}

function buildPhasePlot(P) {
  const cv = makeCanvas(P.canvas);
  const yW = P.plot.l - P.canvas.l, xH = P.canvas.b - P.plot.b;
  const datasets = [{
    type: 'line', data: toXY(P.fit), borderColor: '#000', borderWidth: 2.5, pointRadius: 0,
    cubicInterpolationMode: 'monotone', fill: false, order: 0
  }];
  P.series.forEach((s, i) => datasets.push({
    type: 'scatter', label: s.label,
    data: s.pts.map(p => ({ x: p[0], y: p[1], e: p.length > 2 ? p[2] : s.err })),
    pointStyle: s.shape, pointRadius: s.r, pointRotation: s.rot || 0,
    pointBackgroundColor: s.color, pointBorderColor: s.color, pointBorderWidth: s.bw || 1,
    errColor: s.errColor, order: i + 2
  }));
  P.marks.forEach(m => datasets.push({
    type: 'scatter', data: toXY(m.pts), pointStyle: m.shape, pointRadius: m.r,
    pointBackgroundColor: 'rgba(0,0,0,0)', pointBorderColor: m.colors, pointBorderWidth: 1, order: 1
  }));
  const tickFont = { size: P.tickFont, weight: 'bold' };
  new Chart(cv, {
    type: 'scatter',
    data: { datasets },
    options: {
      responsive: false, animation: false, devicePixelRatio: 1, events: [],
      layout: { padding: { left: 0, top: P.plot.t - P.canvas.t, right: P.canvas.r - P.plot.r, bottom: 0 } },
      plugins: { legend: { display: false }, tooltip: { enabled: false } },
      scales: {
        x: {
          type: 'linear', position: 'bottom', min: P.xMin, max: P.xMax,
          afterBuildTicks: s => { s.ticks = P.xTicks.map(v => ({ value: v })); },
          afterFit: s => { s.height = xH; },
          ticks: { callback: v => Number(v).toFixed(2), font: tickFont, color: '#000', padding: P.xPad, maxRotation: 0, autoSkip: false },
          grid: { display: false, drawTicks: false }, border: { display: false }
        },
        y: {
          type: 'linear', position: 'left', reverse: true, min: P.yMin, max: P.yMax,
          afterBuildTicks: s => { s.ticks = P.yTicks.map(v => ({ value: v })); },
          afterFit: s => { s.width = yW; },
          ticks: { callback: v => Number(v).toFixed(2), font: tickFont, color: '#000', padding: P.yPad, autoSkip: false },
          grid: { display: false, drawTicks: false }, border: { display: false },
          title: { display: true, text: P.yTitle, color: '#000', font: { size: 13.5, weight: 'bold' }, padding: { top: 2, bottom: 0 } }
        }
      }
    },
    plugins: [errorBars(), phaseFrame(P), boxLegend(P)]
  });
}

function buildSpectrum(S) {
  const cv = makeCanvas(S.canvas);
  const yW = S.plot.l - S.canvas.l, xH = S.canvas.b - S.plot.b;
  const frame = {
    id: 'spectrumFrame',
    afterDatasetsDraw(chart) {
      const { ctx, chartArea: a } = chart, xs = chart.scales.x;
      ctx.save();
      ctx.strokeStyle = '#8c8c8c'; ctx.lineWidth = 1;
      ctx.beginPath(); ctx.moveTo(a.left, a.top + 0.5); ctx.lineTo(a.right - 0.5, a.top + 0.5); ctx.lineTo(a.right - 0.5, a.bottom); ctx.stroke();
      ctx.strokeStyle = '#000'; ctx.lineWidth = 1.5;
      ctx.beginPath();
      for (let k = 8; k <= 81; k++) {
        const p = xs.getPixelForValue(k / 10);
        const len = (k % 10 === 0) ? 5 : 3;
        ctx.moveTo(p, a.bottom); ctx.lineTo(p, a.bottom - len);
      }
      ctx.stroke();
      ctx.strokeStyle = '#000'; ctx.lineWidth = 2;
      ctx.beginPath(); ctx.moveTo(a.left, a.top); ctx.lineTo(a.left, a.bottom); ctx.lineTo(a.right, a.bottom); ctx.stroke();
      ctx.restore();
    }
  };
  const tickFont = { size: 12, weight: 'bold' };
  new Chart(cv, {
    type: 'line',
    data: { datasets: [{ data: toXY(spectrumED125), borderColor: '#000', borderWidth: 3, pointRadius: 0, cubicInterpolationMode: 'monotone', fill: false }] },
    options: {
      responsive: false, animation: false, devicePixelRatio: 1, events: [],
      layout: { padding: { left: 0, top: S.plot.t - S.canvas.t, right: S.canvas.r - S.plot.r, bottom: 0 } },
      plugins: { legend: { display: false }, tooltip: { enabled: false } },
      scales: {
        x: {
          type: 'linear', position: 'bottom', min: S.xMin, max: S.xMax,
          afterBuildTicks: s => { s.ticks = spectrumTicksX.map(v => ({ value: v })); },
          afterFit: s => { s.height = xH; },
          ticks: { callback: v => String(v), font: tickFont, color: '#000', padding: 7, maxRotation: 0, autoSkip: false },
          grid: { display: false, drawTicks: false }, border: { display: false },
          title: { display: true, text: 'Period (hours)', color: '#000', font: { size: 15.5, weight: 'bold' }, padding: { top: 0, bottom: 2 } }
        },
        y: {
          type: 'linear', position: 'left', min: S.yMin, max: S.yMax,
          afterBuildTicks: s => { s.ticks = spectrumTicksY.map(v => ({ value: v })); },
          afterFit: s => { s.width = yW; },
          ticks: { callback: v => String(v), font: tickFont, color: '#000', padding: 3, autoSkip: false },
          grid: { display: false, drawTicks: false }, border: { display: false },
          title: { display: true, text: 'RMS error (x 0.01 mag)', color: '#000', font: { size: 16, weight: 'bold' }, padding: { top: 2, bottom: 0 } }
        }
      }
    },
    plugins: [frame]
  });
}

// ================= panels =================
const X_MIN = -0.122, X_MAX = 1.122;
const TRI_DOWN = 180;

buildPhasePlot({
  canvas: { l: 6, t: 15, r: 645, b: 458 }, plot: { l: 64, t: 34.5, r: 549, b: 436.5 },
  xMin: X_MIN, xMax: X_MAX, yMin: 19.255, yMax: 20.65, xTicks: phaseTicks, yTicks: ticks141527,
  tickFont: 13, xPad: 2, yPad: 4, yTitle: 'Reduced Magnitude(r) alpha(10.8\u00b0)', fit: fit141527,
  series: [
    { label: '425 - 03/25', pts: s141527_425, err: 0.006, shape: 'circle', r: 2.3, lr: 1.8, color: '#1f8080', errColor: '#6fb0b0' },
    { label: '426 - 03/26', pts: s141527_426, err: 0.01, shape: 'triangle', r: 3, lr: 2.5, color: '#7a7a7a', errColor: '#b8b8b8' },
    { label: '427 - 03/26', pts: s141527_427, err: 0.012, shape: 'triangle', rot: TRI_DOWN, r: 3.5, lr: 2.7, color: '#cc0000', errColor: '#ff7070' },
    { label: '428 - 04/18', pts: s141527_428, err: 0.03, shape: 'circle', r: 2.2, lr: 1.8, color: '#0a0ad0', errColor: '#7373ff' },
    { label: '429 - 04/19', pts: s141527_429, err: 0.016, shape: 'cross', r: 3.8, lr: 3.5, bw: 2, color: '#000', errColor: '#555' }
  ],
  marks: [
    { pts: rings141527, shape: 'circle', r: 6, colors: ['#4aa0a0', '#777', '#ff4040', '#000', '#3030ff'] },
    { pts: boxes141527, shape: 'rect', r: 6, colors: ['#2a9090', '#888', '#ff4040', '#3030ff'] }
  ],
  legend: { x: 571.7, y: 22, w: 64.5, row: 11.8, font: 10, fitLabel: '6th Order' }
});

buildPhasePlot({
  canvas: { l: 656, t: 15, r: 1295, b: 458 }, plot: { l: 714.6, t: 34.5, r: 1199, b: 436.5 },
  xMin: X_MIN, xMax: X_MAX, yMin: 18.838, yMax: 20.018, xTicks: phaseTicks, yTicks: ticks241662,
  tickFont: 13, xPad: 2, yPad: 4, yTitle: 'Reduced Magnitude(r) alpha(49.2\u00b0)', fit: fit241662,
  series: [
    { label: '488 - 06/17', pts: s241662_488, err: 0.05, shape: 'rect', r: 3.2, lr: 2.6, color: '#6b1a6b', errColor: '#b676b6' },
    { label: '490 - 06/19', pts: s241662_490, err: 0.05, shape: 'triangle', r: 2.8, lr: 2.5, color: '#707070', errColor: '#bdbdbd' },
    { label: '491 - 06/20', pts: s241662_491, err: 0.05, shape: 'triangle', rot: TRI_DOWN, r: 3, lr: 2.7, color: '#a00000', errColor: '#ff6a6a' },
    { label: '492 - 06/18', pts: s241662_492, err: 0.05, shape: 'circle', r: 2.2, lr: 1.8, color: '#0000dd', errColor: '#4d4dff' }
  ],
  marks: [
    { pts: rings241662, shape: 'circle', r: 6, colors: ['#b060b0', '#ff5050', '#3030ff'] },
    { pts: boxes241662, shape: 'rect', r: 6, colors: ['#ff5050', '#3030ff'] }
  ],
  legend: { x: 1222, y: 22, w: 65.5, row: 11.8, font: 10, fitLabel: '4th Order' }
});

buildPhasePlot({
  canvas: { l: 333, t: 500, r: 972, b: 945 }, plot: { l: 395, t: 520, r: 920, b: 921.7 },
  xMin: -0.1212, xMax: 1.12, yMin: 20.501, yMax: 21.937, xTicks: phaseTicks, yTicks: ticks285331,
  tickFont: 14.5, xPad: 2, yPad: 3, yTitle: 'Reduced Magnitude(r) alpha(81.3\u00b0)', fit: fit285331,
  series: [
    { label: '431 - 04/21', pts: s285331_431, err: 0.01, shape: 'star', r: 2.8, lr: 2.6, bw: 2, lbw: 1.6, color: '#149414', errColor: '#66c266' },
    { label: '432 - 04/22', pts: s285331_432, err: 0.01, shape: 'rect', r: 3.3, lr: 2.6, color: '#0b0b6e', errColor: '#6a6ab5' },
    { label: '433 - 04/24', pts: s285331_433, err: 0.01, shape: 'circle', r: 2.2, lr: 1.9, color: '#7a1a7a', errColor: '#c387c3' },
    { label: '434 - 04/23', pts: s285331_434, err: 0.01, shape: 'triangle', r: 3, lr: 2.6, color: '#1a7f7f', errColor: '#66b0b0' }
  ],
  marks: [
    { pts: rings285331, shape: 'circle', r: 6.5, colors: ['#b050b0', '#4040a0', '#40a0a0'] },
    { pts: boxes285331, shape: 'rect', r: 6.5, colors: ['#b050b0', '#40a040', '#40a0a0'] }
  ],
  legend: { x: 890, y: 505.7, w: 71, row: 12, font: 11, fitLabel: '6th Order' }
});

buildPhasePlot({
  canvas: { l: 6, t: 985, r: 645, b: 1430 }, plot: { l: 64, t: 1005.7, r: 548.5, b: 1408 },
  xMin: X_MIN, xMax: X_MAX, yMin: 21.617, yMax: 22.797, xTicks: phaseTicks, yTicks: ticksED125,
  tickFont: 13, xPad: 2, yPad: 4, yTitle: 'Reduced Magnitude(r) alpha(27.6\u00b0)', fit: fitED125,
  series: [
    { label: '529 - 03/14', pts: sED125_529, err: 0.008, shape: 'circle', r: 2.2, lr: 1.8, color: '#1010e0', errColor: '#7a7aff' },
    { label: '530 - 03/15', pts: sED125_530, err: 0.008, shape: 'triangle', r: 3.5, lr: 2.6, color: '#000', errColor: '#808080' },
    { label: '531 - 03/16', pts: sED125_531, err: 0.008, shape: 'triangle', rot: TRI_DOWN, r: 3.5, lr: 2.7, color: '#780a0a', errColor: '#c49494' }
  ],
  marks: [
    { pts: ringsED125, shape: 'circle', r: 6.5, colors: ['#4040ff', '#333'] },
    { pts: boxesED125, shape: 'rect', r: 6.5, colors: ['#c04040'] }
  ],
  legend: { x: 571.7, y: 992.7, w: 64.5, row: 11.8, font: 10, fitLabel: '4th Order' }
});

buildSpectrum({
  canvas: { l: 672.4, t: 1000, r: 1205, b: 1443.4 }, plot: { l: 712.3, t: 1007.3, r: 1195, b: 1400.7 },
  xMin: 0.788, xMax: 8.11, yMin: 0.076, yMax: 18.25
});

buildPhasePlot({
  canvas: { l: 6, t: 1470, r: 645, b: 1915 }, plot: { l: 64, t: 1491, r: 548.5, b: 1893.3 },
  xMin: X_MIN, xMax: X_MAX, yMin: 20.342, yMax: 21.52, xTicks: phaseTicks, yTicks: ticksXL69n1,
  tickFont: 13, xPad: 2, yPad: 4, yTitle: 'Reduced Magnitude(r) alpha(25.3\u00b0)', fit: fitXL69n1,
  series: [
    { label: '478 - 05/24', pts: sXL69n1_478, err: 0.02, shape: 'rect', r: 4.7, lr: 3, color: '#0e0e33', errColor: '#5c5cb0' }
  ],
  marks: [
    { pts: ringsXL69n1, shape: 'circle', r: 7, colors: ['#5050c0'] },
    { pts: boxesXL69n1, shape: 'rect', r: 8, colors: ['#5050c0'] }
  ],
  legend: { x: 571.7, y: 1477.7, w: 64.5, row: 11.8, font: 10, fitLabel: '2nd Order' }
});

buildPhasePlot({
  canvas: { l: 656, t: 1470, r: 1295, b: 1915 }, plot: { l: 714.6, t: 1491, r: 1199, b: 1893.3 },
  xMin: X_MIN, xMax: X_MAX, yMin: 20.17, yMax: 21.35, xTicks: phaseTicks, yTicks: ticksXL69n23,
  tickFont: 13, xPad: 2, yPad: 4, yTitle: 'Reduced Magnitude(r) alpha(19.4\u00b0)', fit: fitXL69n23,
  series: [
    { label: '479 - 06/14', pts: sXL69n23_479, err: 0.035, shape: 'rect', r: 3.8, lr: 2.8, color: '#7f007f', errColor: '#c68bc6' },
    { label: '480 - 06/15', pts: sXL69n23_480, err: 0.035, shape: 'rect', r: 3.3, lr: 2.6, color: '#176d6d', errColor: '#4fb0b0' }
  ],
  marks: [
    { pts: ringsXL69n23, shape: 'circle', r: 7, colors: ['#40a0a0'] },
    { pts: boxesXL69n23, shape: 'rect', r: 7, colors: ['#40a0a0'] }
  ],
  legend: { x: 1222, y: 1477.7, w: 65.5, row: 11.8, font: 10, fitLabel: '2nd Order' }
});

// ================= titles and footers =================
const titlePos = [[280, 18.3, 19], [930.6, 18.3, 19], [628.3, 502.7, 20.2], [280.2, 989, 19], [936, 990.7, 20], [279.6, 1474, 19], [930.6, 1474, 19]];
titles.forEach((t, i) => {
  const [x, y, s] = titlePos[i];
  const d = addText('ttl', t, x, y, s);
  if (i === 4) d.style.fontFamily = '"Liberation Sans", Arial, sans-serif';
});

const footerPos = [
  [[56, 223.8, 316.7], 466, 15],
  [[706, 873.8, 966.7], 466, 15],
  [[385.8, 567.9, 667.9], 951, 16.3],
  [[47.9, 231.3, 324.2], 1438.3, 15],
  [[56.3, 223.8, 316.7], 1922.7, 15],
  [[706.3, 873.8, 966.7], 1922.7, 15]
];
footers.forEach((parts, i) => {
  const [xs, y, s] = footerPos[i];
  parts.forEach((p, k) => addText('ftr', p, xs[k], y, s));
});
</script>
</body>
</html>
